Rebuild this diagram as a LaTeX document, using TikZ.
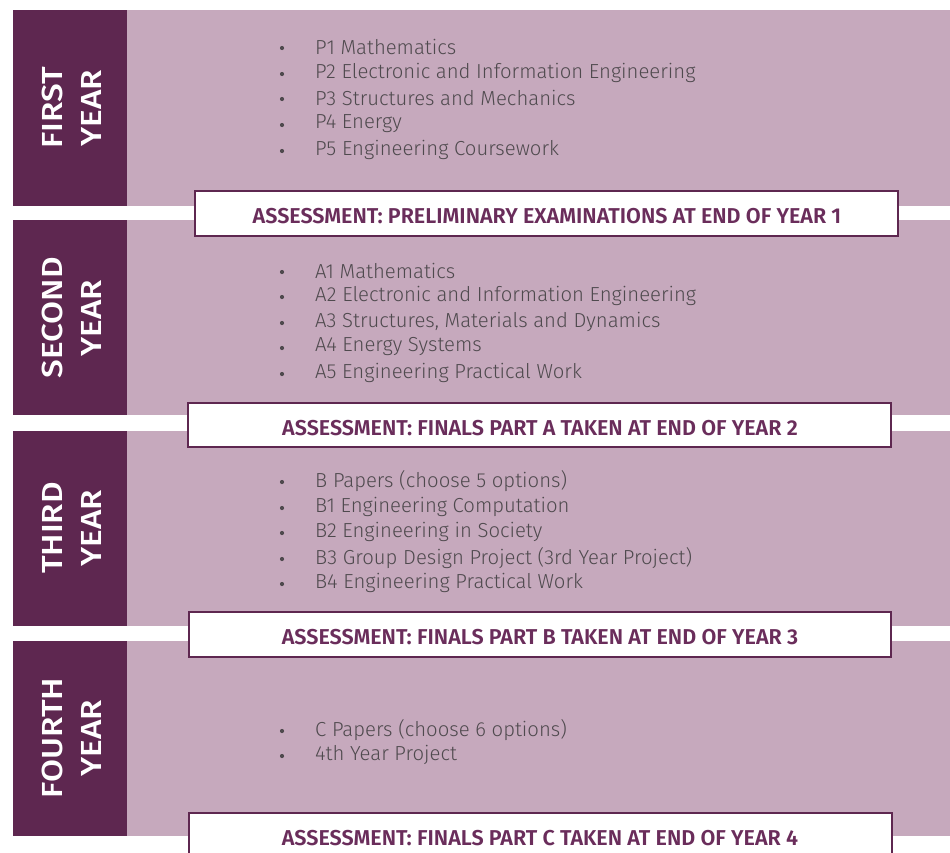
\documentclass[tikz,border=0pt]{standalone}
\usepackage{fontspec}
\setmainfont{Fira Sans}
\newfontfamily\itemfont{Fira Sans Light}
\newfontfamily\assessfont{Fira Sans SemiBold}
\newfontfamily\yearfont[FakeStretch=1.15]{Fira Sans Medium}
\definecolor{darkp}{HTML}{5E2750}
\definecolor{lightp}{HTML}{C6A9BD}
\definecolor{boxtxt}{HTML}{6A2D5B}
\definecolor{itemtxt}{HTML}{4F4A4E}
\tikzset{
  yearbar/.style={fill=darkp, draw=none},
  band/.style={fill=lightp, draw=none},
  yearlabel/.style={rotate=90, text=white, align=center, font=\yearfont\fontsize{29}{39}\selectfont, inner sep=0pt},
  assessbox/.style={fill=white, draw=darkp, line width=2.2pt},
  assesstext/.style={text=boxtxt, font=\assessfont\fontsize{21.5}{24}\selectfont, inner sep=0pt},
  itemtext/.style={text=itemtxt, font=\itemfont\fontsize{20.3}{24}\selectfont, anchor=west, inner sep=0pt},
  bullet/.style={circle, fill=itemtxt, inner sep=0pt, minimum size=4.2pt}
}
\begin{document}
\begin{tikzpicture}[x=1pt, y=-1pt]
\useasboundingbox (0,0) rectangle (950,852);
\fill[white] (0,0) rectangle (950,852);
% rows
\foreach \t/\b/\n in {10/206/1, 220/415/2, 431/626/3, 641/836/4}{
  \fill[band] (127,\t) rectangle (950,\b);
  \fill[yearbar] (13,\t) rectangle (127,\b);
}
\node[yearlabel] (y1) at (72,108) {FIRST\\YEAR};
\node[yearlabel] (y2) at (72,318) {SECOND\\YEAR};
\node[yearlabel] (y3) at (72,528) {THIRD\\YEAR};
\node[yearlabel] (y4) at (72,738) {FOURTH\\YEAR};
% assessment boxes
\draw[assessbox] (195,191) rectangle (898,236);
\node[assesstext] (a1) at (547,216) {ASSESSMENT: PRELIMINARY EXAMINATIONS AT END OF YEAR 1};
\draw[assessbox] (188,403) rectangle (891,447);
\node[assesstext] (a2) at (540,428) {ASSESSMENT: FINALS PART A TAKEN AT END OF YEAR 2};
\draw[assessbox] (189,612) rectangle (891,657);
\node[assesstext] (a3) at (540,637) {ASSESSMENT: FINALS PART B TAKEN AT END OF YEAR 3};
\draw[assessbox] (189,813) rectangle (892,860);
\node[assesstext] (a4) at (540,838) {ASSESSMENT: FINALS PART C TAKEN AT END OF YEAR 4};
% items
\foreach \y/\txt [count=\i] in {
  47/P1 Mathematics,
  73/P2 Electronic and Information Engineering,
  98/P3 Structures and Mechanics,
  124/P4 Energy,
  150/P5 Engineering Coursework,
  271/A1 Mathematics,
  296/A2 Electronic and Information Engineering,
  322/{A3 Structures, Materials and Dynamics},
  347/A4 Energy Systems,
  373/A5 Engineering Practical Work,
  481/B Papers (choose 5 options),
  507/B1 Engineering Computation,
  532/B2 Engineering in Society,
  558/B3 Group Design Project (3rd Year Project),
  583/B4 Engineering Practical Work,
  730/C Papers (choose 6 options),
  755/4th Year Project}{
  \node[bullet] (b\i) at (282,\y+1) {};
  \node[itemtext] (t\i) at (315,\y) {\txt};
}
\end{tikzpicture}
\end{document}
